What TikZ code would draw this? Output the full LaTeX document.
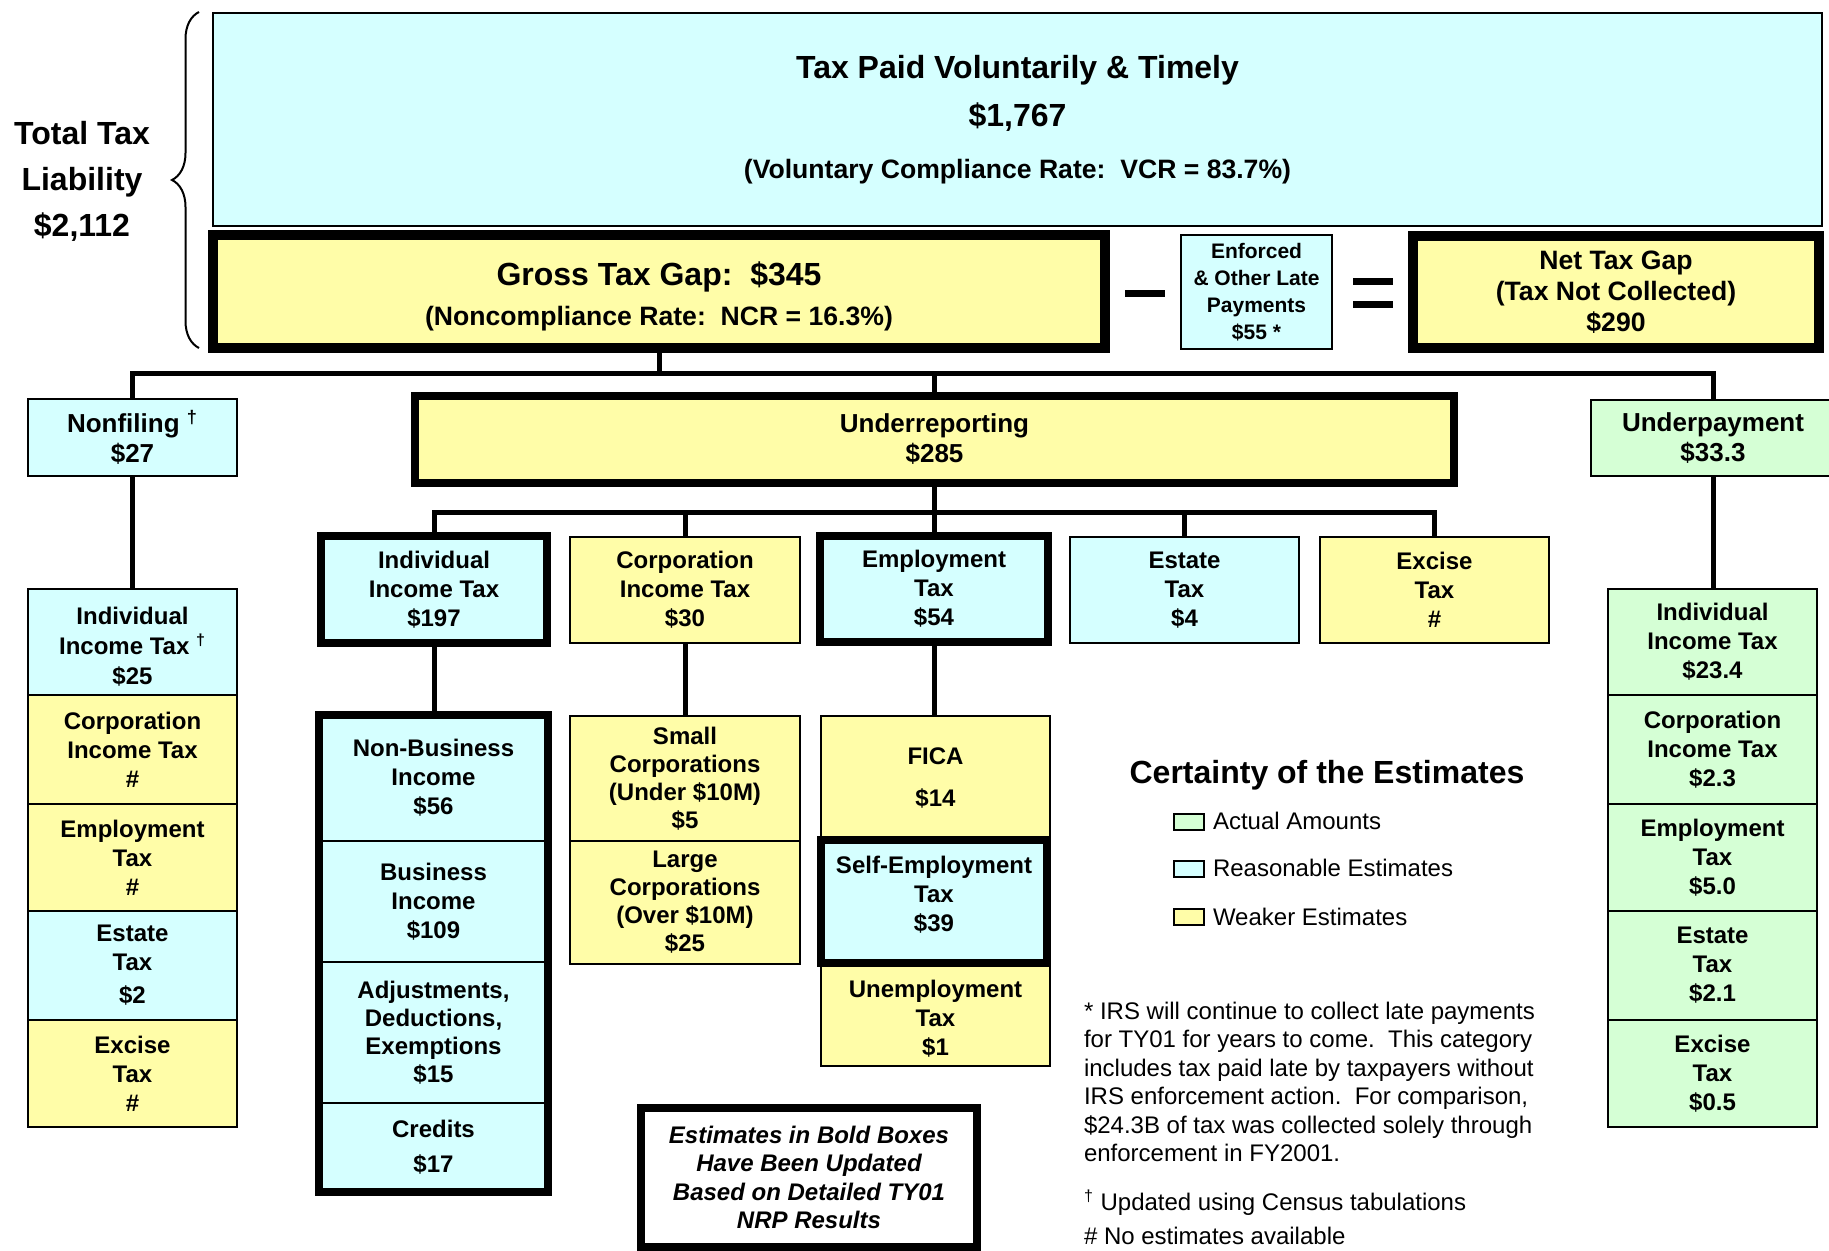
\documentclass[tikz,border=0pt]{standalone}
\usepackage{fontspec}
\setmainfont{Liberation Sans}
\usetikzlibrary{decorations.pathreplacing}
\definecolor{cy}{RGB}{213,255,255}
\definecolor{ye}{RGB}{255,253,168}
\definecolor{gr}{RGB}{213,255,213}
\newcommand\bx[7]{\node[#1, minimum width={(#5-#3)*0.5pt}, minimum height={(#6-#4)*0.5pt}] (#2) at ({(#3+#5)/2},{(#4+#6)/2}) {#7};}
\newcommand\dg{\textsuperscript{†}}
\tikzset{
 base/.style={draw, line width=1.25pt, inner sep=0pt, outer sep=0pt, align=center, font=\bfseries\fontsize{12}{14.5}\selectfont},
 cb/.style={base, fill=cy},
 yb/.style={base, fill=ye},
 gb/.style={base, fill=gr},
 heavy/.style={line width=4pt},
 heavier/.style={line width=4.75pt},
 conn/.style={line width=2.5pt, line join=miter},
 lvl/.style={font=\bfseries\fontsize{13}{15}\selectfont},
 bar/.style={fill=black, inner sep=0pt, minimum width=20pt, minimum height=3.5pt},
 swatch/.style={draw, line width=1pt, inner sep=0pt, outer sep=0pt},
 plain/.style={inner sep=0pt, outer sep=0pt, font=\fontsize{12}{14.2}\selectfont},
}
\begin{document}
\begin{tikzpicture}[x=0.5pt,y=-0.5pt]
\fill[white] (0,0) rectangle (1829,1251);
\useasboundingbox (0,0) rectangle (1829,1251);

% top row
\bx{cb, font=\bfseries\fontsize{16}{24}\selectfont}{top}{213}{13}{1822}{226}{Tax Paid Voluntarily \& Timely\\\$1,767\\[1.7pt]{\fontsize{13.3}{24}\selectfont (Voluntary Compliance Rate:\ \ VCR = 83.7\%)}}
\node[align=center, inner sep=0pt, font=\bfseries\fontsize{16}{23}\selectfont] (total) at (82,181) {Total Tax\\Liability\\\$2,112};
\draw[line width=1pt, decorate, decoration={brace, amplitude=13.5pt}] (199,348) -- (199,12);

\bx{yb, heavier, font=\bfseries\fontsize{16}{20}\selectfont}{gross}{213}{235}{1105}{348}{\rule{0pt}{16.8pt}Gross Tax Gap:\ \ \$345\\{\fontsize{13.3}{20}\selectfont (Noncompliance Rate:\ \ NCR = 16.3\%)}}
\node[bar] (minus) at (1145,293.5) {};
\bx{cb, font=\bfseries\fontsize{10.5}{13.5}\selectfont}{enf}{1181}{235}{1332}{349}{Enforced\\\& Other Late\\Payments\\\$55 *}
\node[bar] (eqa) at (1373,282) {};
\node[bar] (eqb) at (1373,305) {};
\bx{yb, heavier, font=\bfseries\fontsize{13.3}{15.5}\selectfont}{net}{1413}{236}{1819}{348}{Net Tax Gap\\(Tax Not Collected)\\\$290}

% level 1
\bx{cb, lvl}{nonf}{28}{399}{237}{476}{Nonfiling \dg\\\$27}
\bx{yb, heavy, lvl}{underr}{415}{396}{1454}{483}{Underreporting\\\$285}
\bx{gb, lvl}{underp}{1591}{400}{1835}{476}{Underpayment\\\$33.3}

% left stack
\bx{cb, font=\bfseries\fontsize{12}{15}\selectfont}{ls1}{28}{589}{237}{695}{\rule{0pt}{13.5pt}Individual\\Income Tax \dg\\\$25}
\bx{yb}{ls2}{28}{695}{237}{804}{Corporation\\Income Tax\\\#}
\bx{yb}{ls3}{28}{804}{237}{911}{Employment\\Tax\\\#}
\bx{cb}{ls4}{28}{911}{237}{1020}{Estate\\Tax\\[2pt]\$2}
\bx{yb}{ls5}{28}{1020}{237}{1127}{Excise\\Tax\\\#}

% right stack
\bx{gb}{rs1}{1608}{589}{1817}{695}{Individual\\Income Tax\\\$23.4}
\bx{gb}{rs2}{1608}{695}{1817}{804}{Corporation\\Income Tax\\\$2.3}
\bx{gb}{rs3}{1608}{804}{1817}{911}{Employment\\Tax\\\$5.0}
\bx{gb}{rs4}{1608}{911}{1817}{1020}{Estate\\Tax\\\$2.1}
\bx{gb}{rs5}{1608}{1020}{1817}{1127}{Excise\\Tax\\\$0.5}

% level 2
\bx{cb, heavy}{rind}{321}{536}{547}{643}{Individual\\Income Tax\\\$197}
\bx{yb}{rcorp}{570}{537}{800}{643}{Corporation\\Income Tax\\\$30}
\bx{cb, heavy}{remp}{820}{536}{1048}{642}{Employment\\Tax\\\$54}
\bx{cb}{rest}{1070}{537}{1299}{643}{Estate\\Tax\\\$4}
\bx{yb}{rexc}{1320}{537}{1549}{643}{Excise\\Tax\\\#}

% individual income tax breakdown
\bx{cb}{nb}{319}{715}{548}{841}{Non-Business\\Income\\\$56}
\bx{cb}{bi}{319}{841}{548}{962}{Business\\Income\\\$109}
\bx{cb, font=\bfseries\fontsize{12}{14}\selectfont}{adj}{319}{962}{548}{1103}{Adjustments,\\Deductions,\\Exemptions\\\$15}
\bx{cb}{cr}{319}{1103}{548}{1192}{Credits\\[3pt]\$17}
\draw[heavy] (nb.north west) rectangle (cr.south east);

% corporation breakdown
\bx{yb, font=\bfseries\fontsize{12}{14}\selectfont}{sc}{570}{716}{800}{841}{Small\\Corporations\\(Under \$10M)\\\$5}
\bx{yb, font=\bfseries\fontsize{12}{14}\selectfont}{lc}{570}{841}{800}{964}{Large\\Corporations\\(Over \$10M)\\\$25}

% employment breakdown
\bx{yb}{fica}{821}{716}{1050}{840}{FICA\\[6.5pt]\$14}
\bx{yb}{unemp}{821}{963}{1050}{1066}{\rule{0pt}{12.5pt}Unemployment\\Tax\\\$1}
\bx{cb, heavy}{se}{821}{840}{1047}{963}{Self-Employment\\Tax\\\$39\rule[-7.5pt]{0pt}{0pt}}

% connectors
\coordinate (busa) at (0,373);
\coordinate (busb) at (0,512);
\draw[conn] (nonf.north) -- (nonf.north |- busa) -- (underp.north |- busa) -- (underp.north);
\draw[conn] (gross.south) -- (gross.south |- busa);
\draw[conn] (underr.north) -- (underr.north |- busa);
\draw[conn] (nonf.south) -- (ls1.north);
\draw[conn] (underp.south) -- (underp.south |- rs1.north);
\draw[conn] (rind.north) -- (rind.north |- busb) -- (rexc.north |- busb) -- (rexc.north);
\draw[conn] (underr.south) -- (underr.south |- busb);
\draw[conn] (rcorp.north) -- (rcorp.north |- busb);
\draw[conn] (remp.north) -- (remp.north |- busb);
\draw[conn] (rest.north) -- (rest.north |- busb);
\draw[conn] (rind.south) -- (rind.south |- nb.north);
\draw[conn] (rcorp.south) -- (sc.north);
\draw[conn] (remp.south) -- (remp.south |- fica.north);

% note box
\bx{base, fill=white, heavy, font=\bfseries\itshape\fontsize{12}{14.25}\selectfont}{note}{641}{1108}{977}{1247}{Estimates in Bold Boxes\\Have Been Updated\\Based on Detailed TY01\\NRP Results}

% legend
\node[anchor=base, inner sep=0pt, font=\bfseries\fontsize{16}{19}\selectfont] (legt) at (1327,783) {Certainty of the Estimates};
\bx{swatch, fill=gr}{sw1}{1174}{814}{1204}{830}{}
\bx{swatch, fill=cy}{sw2}{1174}{861}{1204}{877}{}
\bx{swatch, fill=ye}{sw3}{1174}{909}{1204}{925}{}
\node[plain, anchor=west] (lab1) at (1213,821) {Actual Amounts};
\node[plain, anchor=west] (lab2) at (1213,868) {Reasonable Estimates};
\node[plain, anchor=west] (lab3) at (1213,917) {Weaker Estimates};

% footnotes
\node[plain, anchor=north west, align=left] (fna) at (1084,1002) {* IRS will continue to collect late payments\\for TY01 for years to come.\ \ This category\\includes tax paid late by taxpayers without\\IRS enforcement action.\ \ For comparison,\\\$24.3B of tax was collected solely through\\enforcement in FY2001.};
\node[plain, anchor=base west] (fnb) at (1084,1210) {\dg\ Updated using Census tabulations};
\node[plain, anchor=base west] (fnc) at (1084,1244) {\# No estimates available};
\end{tikzpicture}
\end{document}
